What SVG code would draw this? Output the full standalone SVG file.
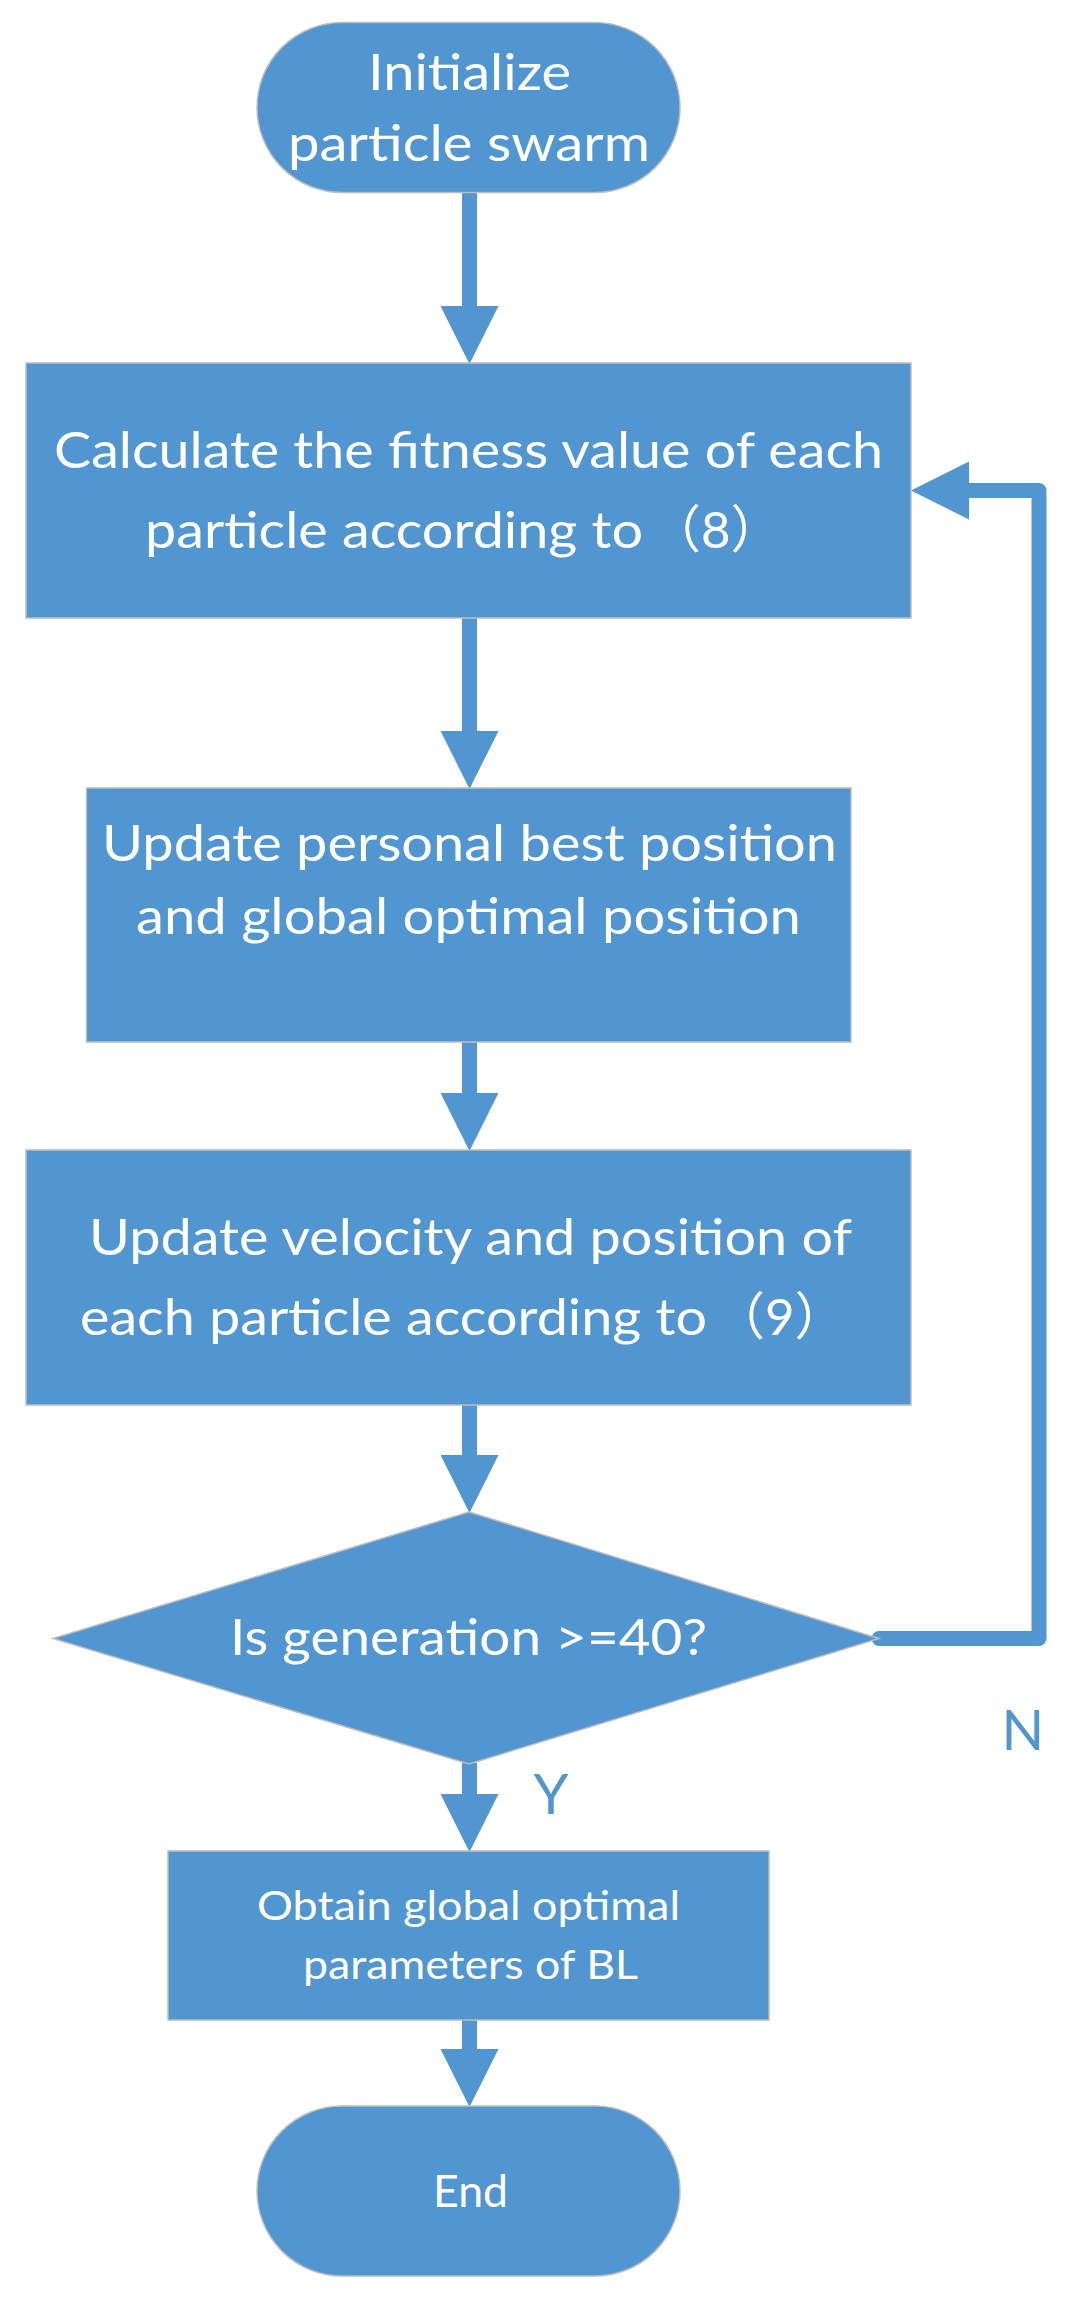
<svg xmlns="http://www.w3.org/2000/svg" width="1069" height="2301" viewBox="0 0 1069 2301">
<style>
.shape{fill:#5196D0;stroke:#BDBDBD;stroke-width:1.5}
.lbl{font-family:Lato,"Noto Sans","Noto Sans CJK SC",sans-serif;fill:#FFFFFF;font-size:51px}
.sm{font-size:40px}
.mid{text-anchor:middle}
.yn{font-family:Lato,"Noto Sans",sans-serif;fill:#5196D0;font-size:56px;text-anchor:middle}
.conn{fill:none;stroke:#5196D0;stroke-width:15}
</style>
<defs>
<marker id="arr" markerUnits="userSpaceOnUse" markerWidth="58" markerHeight="58" refX="0" refY="29" orient="auto" viewBox="0 0 58 58">
<path d="M0,0 L58,29 L0,58 Z" fill="#5196D0"/>
</marker>
</defs>
<g id="connectors">
<line class="conn" x1="469.5" y1="192" x2="469.5" y2="306" marker-end="url(#arr)"/>
<line class="conn" x1="469.5" y1="618" x2="469.5" y2="731" marker-end="url(#arr)"/>
<line class="conn" x1="469.5" y1="1042" x2="469.5" y2="1093" marker-end="url(#arr)"/>
<line class="conn" x1="469.5" y1="1405" x2="469.5" y2="1455" marker-end="url(#arr)"/>
<line class="conn" x1="469.5" y1="1763" x2="469.5" y2="1794" marker-end="url(#arr)"/>
<line class="conn" x1="469.5" y1="2020" x2="469.5" y2="2049" marker-end="url(#arr)"/>
<path class="conn" d="M879,1638.5 H1039 V490.5 H969" stroke-linecap="round" stroke-linejoin="round" marker-end="url(#arr)"/>
<text class="yn" x="1023" y="1750">N</text>
<text class="yn" x="551" y="1814">Y</text>
</g>
<g id="start">
<rect class="shape" x="257" y="22.5" width="423" height="170" rx="85" ry="85"/>
<text class="lbl mid" x="469.5" y="90" textLength="203" lengthAdjust="spacingAndGlyphs">Initialize</text>
<text class="lbl mid" x="469" y="161" textLength="362" lengthAdjust="spacingAndGlyphs">particle swarm</text>
</g>
<g id="fitness">
<rect class="shape" x="26" y="363" width="885" height="255"/>
<text class="lbl mid" x="468.5" y="468" textLength="829" lengthAdjust="spacingAndGlyphs">Calculate the fitness value of each</text>
<text class="lbl" y="548"><tspan x="145" textLength="498" lengthAdjust="spacingAndGlyphs">particle according to</tspan><tspan x="650">（8）</tspan></text>
</g>
<g id="update-best">
<rect class="shape" x="86.5" y="788" width="764.5" height="254"/>
<text class="lbl mid" x="469.5" y="861" textLength="735" lengthAdjust="spacingAndGlyphs">Update personal best position</text>
<text class="lbl mid" x="468.5" y="934" textLength="665" lengthAdjust="spacingAndGlyphs">and global optimal position</text>
</g>
<g id="update-velocity">
<rect class="shape" x="26" y="1150" width="885" height="255"/>
<text class="lbl mid" x="470.5" y="1255" textLength="763" lengthAdjust="spacingAndGlyphs">Update velocity and position of</text>
<text class="lbl" y="1335"><tspan x="80" textLength="627" lengthAdjust="spacingAndGlyphs">each particle according to</tspan><tspan x="714">（9）</tspan></text>
</g>
<g id="decision">
<polygon class="shape" points="469,1512 879,1638.5 469,1764 53,1638.5"/>
<text class="lbl mid" x="468.5" y="1655" textLength="477" lengthAdjust="spacingAndGlyphs">Is generation &gt;=40?</text>
</g>
<g id="obtain">
<rect class="shape" x="168" y="1851" width="601" height="169"/>
<text class="lbl sm mid" x="468.5" y="1920" textLength="423" lengthAdjust="spacingAndGlyphs">Obtain global optimal</text>
<text class="lbl sm mid" x="470.5" y="1979" textLength="335" lengthAdjust="spacingAndGlyphs">parameters of BL</text>
</g>
<g id="end">
<rect class="shape" x="257" y="2106" width="423" height="170" rx="85" ry="85"/>
<text class="lbl mid" x="470.5" y="2207" style="font-size:44px" textLength="75" lengthAdjust="spacingAndGlyphs">End</text>
</g>
</svg>
